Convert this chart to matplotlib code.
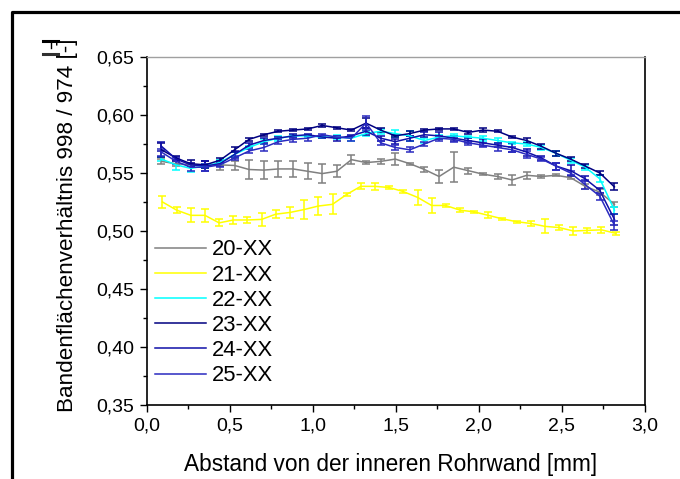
import matplotlib
matplotlib.use('Agg')
import matplotlib.pyplot as plt
from matplotlib.lines import Line2D
from matplotlib.ticker import MultipleLocator, FuncFormatter

plt.rcParams['font.family'] = ['Liberation Sans', 'DejaVu Sans']

# x grid (mm) of most series and of the yellow one
x_main = [0.088, 0.176, 0.264, 0.352, 0.440, 0.528, 0.616, 0.704, 0.792, 0.880, 0.968,
          1.056, 1.144, 1.232, 1.320, 1.408, 1.496, 1.584, 1.672, 1.760, 1.848, 1.936,
          2.024, 2.112, 2.200, 2.288, 2.376, 2.464, 2.552, 2.640, 2.728, 2.816]
x_21 = [0.094, 0.179, 0.265, 0.350, 0.435, 0.521, 0.606, 0.691, 0.776, 0.862, 0.947,
        1.032, 1.118, 1.203, 1.288, 1.374, 1.459, 1.544, 1.630, 1.715, 1.800, 1.885,
        1.971, 2.056, 2.141, 2.227, 2.312, 2.397, 2.482, 2.568, 2.653, 2.738, 2.824]

y_20 = [0.560, 0.558, 0.557, 0.557, 0.557, 0.5565, 0.553, 0.5525, 0.5535, 0.5535, 0.5515,
        0.5495, 0.5515, 0.5615, 0.559, 0.560, 0.562, 0.558, 0.553, 0.547, 0.555, 0.552,
        0.549, 0.547, 0.544, 0.548, 0.547, 0.548, 0.546, 0.5385, 0.5335, 0.523]
e_20 = [0.002, 0.002, 0.002, 0.003, 0.004, 0.004, 0.008, 0.008, 0.007, 0.007, 0.007,
        0.008, 0.005, 0.004, 0.0015, 0.002, 0.0055, 0.001, 0.002, 0.0055, 0.013, 0.0025,
        0.001, 0.0025, 0.0045, 0.003, 0.001, 0.001, 0.001, 0.002, 0.0025, 0.002]

y_21 = [0.525, 0.518, 0.5135, 0.5135, 0.507, 0.5095, 0.5095, 0.510, 0.5145, 0.516, 0.5185,
        0.5215, 0.523, 0.5315, 0.5385, 0.5385, 0.5375, 0.534, 0.529, 0.522, 0.522, 0.518,
        0.5165, 0.5135, 0.5105, 0.508, 0.5065, 0.504, 0.503, 0.500, 0.5005, 0.501, 0.498]
e_21 = [0.0055, 0.0027, 0.006, 0.0057, 0.003, 0.0035, 0.0024, 0.0053, 0.0033, 0.005, 0.0083,
        0.0075, 0.0086, 0.001, 0.0026, 0.0029, 0.001, 0.001, 0.0062, 0.0067, 0.001, 0.002,
        0.001, 0.0025, 0.001, 0.001, 0.0025, 0.006, 0.002, 0.0036, 0.0025, 0.0025, 0.0015]

y_22 = [0.562, 0.557, 0.554, 0.556, 0.559, 0.566, 0.572, 0.577, 0.580, 0.582, 0.582,
        0.581, 0.581, 0.580, 0.584, 0.586, 0.584, 0.582, 0.578, 0.581, 0.582, 0.581,
        0.580, 0.578, 0.576, 0.575, 0.572, 0.567, 0.561, 0.555, 0.545, 0.518]
e_22 = [0.002, 0.004, 0.003, 0.002, 0.002, 0.002, 0.001, 0.002, 0.002, 0.001, 0.001,
        0.001, 0.002, 0.002, 0.002, 0.002, 0.003, 0.004, 0.002, 0.002, 0.002, 0.001,
        0.002, 0.002, 0.001, 0.002, 0.002, 0.002, 0.002, 0.002, 0.003, 0.003]

y_23 = [0.570, 0.563, 0.558, 0.557, 0.561, 0.570, 0.579, 0.583, 0.586, 0.587, 0.588,
        0.591, 0.589, 0.587, 0.593, 0.587, 0.582, 0.584, 0.587, 0.588, 0.588, 0.585,
        0.587, 0.586, 0.581, 0.578, 0.573, 0.567, 0.562, 0.556, 0.550, 0.538]
e_23 = [0.006, 0.002, 0.003, 0.003, 0.002, 0.002, 0.001, 0.001, 0.001, 0.001, 0.001,
        0.001, 0.001, 0.001, 0.004, 0.002, 0.001, 0.002, 0.001, 0.001, 0.001, 0.001,
        0.002, 0.001, 0.001, 0.002, 0.002, 0.002, 0.002, 0.002, 0.002, 0.003]

y_24 = [0.573, 0.562, 0.557, 0.556, 0.558, 0.566, 0.574, 0.578, 0.580, 0.582, 0.583,
        0.581, 0.580, 0.582, 0.586, 0.580, 0.577, 0.580, 0.583, 0.582, 0.580, 0.578,
        0.576, 0.574, 0.572, 0.568, 0.563, 0.556, 0.552, 0.545, 0.535, 0.510]
e_24 = [0.004, 0.002, 0.002, 0.004, 0.002, 0.003, 0.002, 0.002, 0.001, 0.002, 0.001,
        0.001, 0.002, 0.001, 0.003, 0.002, 0.002, 0.002, 0.002, 0.003, 0.002, 0.002,
        0.003, 0.002, 0.004, 0.003, 0.002, 0.003, 0.005, 0.002, 0.002, 0.005]

y_25 = [0.568, 0.560, 0.555, 0.555, 0.557, 0.563, 0.569, 0.572, 0.577, 0.579, 0.580,
        0.583, 0.581, 0.580, 0.593, 0.576, 0.572, 0.570, 0.575, 0.580, 0.579, 0.576,
        0.574, 0.572, 0.570, 0.566, 0.562, 0.556, 0.550, 0.540, 0.530, 0.505]
e_25 = [0.003, 0.002, 0.003, 0.003, 0.002, 0.002, 0.002, 0.003, 0.002, 0.002, 0.002,
        0.001, 0.001, 0.002, 0.006, 0.002, 0.002, 0.002, 0.002, 0.002, 0.002, 0.002,
        0.002, 0.003, 0.002, 0.003, 0.002, 0.003, 0.002, 0.004, 0.003, 0.004]

labels = ['20-XX', '21-XX', '22-XX', '23-XX', '24-XX', '25-XX']
colors = ['#808080', '#ffff00', '#00ffff', '#000080', '#1010a8', '#2a2ac0']

fig = plt.figure(figsize=(6.8, 4.79), dpi=100)
ax = fig.add_axes([0.216, 0.1545, 0.7325, 0.7265])

series = [(x_main, y_20, e_20), (x_21, y_21, e_21), (x_main, y_22, e_22),
          (x_main, y_23, e_23), (x_main, y_24, e_24), (x_main, y_25, e_25)]
for (xs, ys, es), lab, col in zip(series, labels, colors):
    ax.errorbar(xs, ys, yerr=es, color=col, lw=1.1, elinewidth=1.1,
                capsize=3, capthick=1.1, label=lab)

ax.set_xlim(0, 3.0)
ax.set_ylim(0.35, 0.65)
ax.xaxis.set_major_locator(MultipleLocator(0.5))
ax.xaxis.set_minor_locator(MultipleLocator(0.25))
ax.yaxis.set_major_locator(MultipleLocator(0.05))
ax.yaxis.set_minor_locator(MultipleLocator(0.025))
ax.xaxis.set_major_formatter(FuncFormatter(lambda v, p: f'{v:.1f}'.replace('.', ',')))
ax.yaxis.set_major_formatter(FuncFormatter(lambda v, p: f'{v:.2f}'.replace('.', ',')))
ax.tick_params(which='major', direction='out', length=5, width=1, labelsize=14, pad=4)
ax.tick_params(which='minor', direction='out', length=3, width=1)

for s in ['left', 'bottom', 'right']:
    ax.spines[s].set_linewidth(1.2)
ax.spines['top'].set_color('#a0a0a0')
ax.spines['top'].set_linewidth(1.0)

ax.set_xlabel('Abstand von der inneren Rohrwand [mm]', fontsize=16.3)
ax.set_ylabel('Bandenflächenverhältnis 998 / 974 [-]', fontsize=16.2)
ax.xaxis.set_label_coords(0.489, -0.138)
ax.yaxis.set_label_coords(-0.138, 0.517)

handles = [Line2D([], [], color=c, lw=1.1) for c in colors]
ax.legend(handles, labels, loc='lower left', bbox_to_anchor=(-0.01, 0.016),
          frameon=False, fontsize=15.8, handlelength=2.3, handletextpad=0.3,
          labelspacing=0.19, borderaxespad=0.2)

# outer frame (runs off the image to the right and bottom)
fig.add_artist(Line2D([0.017, 0.017, 1.2], [-0.2, 0.974, 0.974],
                      transform=fig.transFigure, color='black', lw=2.3))
# small error-bar symbol in the top-left corner
fig.add_artist(Line2D([43 / 680, 58 / 680], [1 - 41 / 479, 1 - 41 / 479],
                      transform=fig.transFigure, color='black', lw=2.2))
fig.add_artist(Line2D([50.5 / 680, 50.5 / 680], [1 - 43 / 479, 1 - 48 / 479],
                      transform=fig.transFigure, color='black', lw=1.0))
fig.add_artist(Line2D([43 / 680, 58 / 680], [1 - 53.5 / 479, 1 - 53.5 / 479],
                      transform=fig.transFigure, color='#303030', lw=2.2))

fig.savefig('out.png', dpi=100)
